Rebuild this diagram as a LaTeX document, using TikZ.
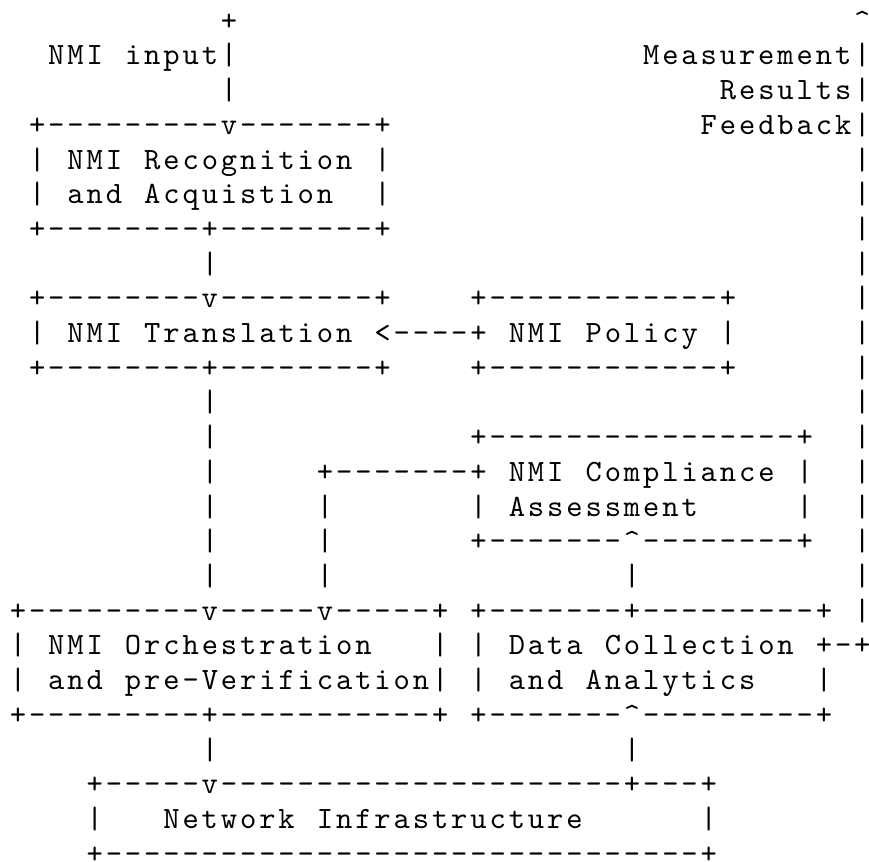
\documentclass[tikz,border=0pt]{standalone}
\usepackage{fontspec}
\usepackage{tikz}
\newfontfamily\asciifont[LetterSpace=9.4,Ligatures=TeXOff]{lmmono10-regular.otf}
\newcommand{\artfont}{\fontsize{31pt}{34.7pt}\asciifont\fontdimen2\font=22.104pt\fontdimen3\font=0pt\fontdimen4\font=0pt}
\tikzset{art/.style={font=\artfont, inner sep=0pt, outer sep=0pt, anchor=base west, text depth=0pt}}

\begin{document}
\begin{tikzpicture}[x=19.19pt, y=-34.7pt]
	\useasboundingbox (-0.514, 0.127) rectangle (44.77, 24.94);
	\node[art] (intop) at (11, 1) {+};
	\node[art] (inlabel) at (2, 2) {NMI input};
	\foreach \r in {2,3}
		\node[art] (in\r) at (11, \r) {|};
	\node[art] (rec1) at (1, 4) {+---------v-------+};
	\node[art] (rec2) at (1, 5) {| NMI Recognition |};
	\node[art] (rec3) at (1, 6) {| and Acquistion};
	\node[art] (rec3r) at (19, 6) {|};
	\node[art] (rec4) at (1, 7) {+--------+--------+};
	\node[art] (rlink) at (10, 8) {|};
	\node[art] (tra1) at (1, 9) {+--------v--------+};
	\node[art] (tra2) at (1, 10) {| NMI Translation};
	\node[art] (tra3) at (1, 11) {+--------+--------+};
	\node[art] (plink) at (19, 10) {<----};
	\node[art] (pol1) at (24, 9) {+------------+};
	\node[art] (pol2) at (24, 10) {+ NMI Policy |};
	\node[art] (pol3) at (24, 11) {+------------+};
	\foreach \r in {12,...,17}
		\node[art] (tlink\r) at (10, \r) {|};
	\node[art] (com1) at (24, 13) {+----------------+};
	\node[art] (com2) at (24, 14) {+ NMI Compliance |};
	\node[art] (com3) at (24, 15) {| Assessment};
	\node[art] (com3r) at (41, 15) {|};
	\node[art] (com4) at (24, 16) {+-------\textasciicircum--------+};
	\node[art] (clink14) at (16, 14) {+-------};
	\foreach \r in {15,16,17}
		\node[art] (clink\r) at (16, \r) {|};
	\node[art] (dlink17) at (32, 17) {|};
	\node[art] (orc1) at (0, 18) {+---------v-----v-----+};
	\node[art] (orc2) at (0, 19) {| NMI Orchestration};
	\node[art] (orc2r) at (22, 19) {|};
	\node[art] (orc3) at (0, 20) {| and pre-Verification|};
	\node[art] (orc4) at (0, 21) {+---------+-----------+};
	\node[art] (dat1) at (24, 18) {+-------+---------+};
	\node[art] (dat2) at (24, 19) {| Data Collection +};
	\node[art] (dat3) at (24, 20) {| and Analytics};
	\node[art] (dat3r) at (42, 20) {|};
	\node[art] (dat4) at (24, 21) {+-------\textasciicircum---------+};
	\node[art] (fbtip) at (44, 1) {\textasciicircum};
	\foreach \r in {2,...,18}
		\node[art] (fb\r) at (44, \r) {|};
	\node[art] (fbfoot) at (43, 19) {-+};
	\node[art] (fblabel1) at (33, 2) {Measurement};
	\node[art] (fblabel2) at (37, 3) {Results};
	\node[art] (fblabel3) at (36, 4) {Feedback};
	\node[art] (olink) at (10, 22) {|};
	\node[art] (dlink22) at (32, 22) {|};
	\node[art] (net1) at (4, 23) {+-----v---------------------+---+};
	\node[art] (net2l) at (4, 24) {|};
	\node[art] (net2) at (8, 24) {Network Infrastructure};
	\node[art] (net2r) at (36, 24) {|};
	\node[art] (net3) at (4, 25) {+-------------------------------+};
\end{tikzpicture}
\end{document}
